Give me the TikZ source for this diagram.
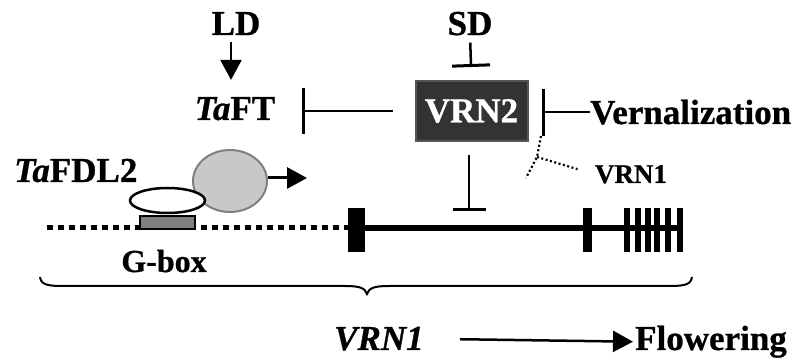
\documentclass[tikz,border=0pt]{standalone}
\usepackage{fontspec}
\setmainfont{Liberation Serif}[BoldFeatures={FakeBold=0.8},BoldItalicFeatures={FakeBold=0.8}]
\usetikzlibrary{arrows.meta,shapes.geometric}
\definecolor{boxfill}{HTML}{333333}
\definecolor{boxline}{HTML}{555555}
\definecolor{protfill}{HTML}{C8C8C8}
\definecolor{protline}{HTML}{808080}
\definecolor{gfill}{HTML}{7F7F7F}
\begin{document}
\begin{tikzpicture}[x=1pt,y=-1pt,
  lbl/.style={font=\fontsize{35}{40}\selectfont\bfseries, inner sep=0pt},
  lblsmall/.style={font=\fontsize{27}{30}\selectfont\bfseries, inner sep=0pt},
  lblg/.style={font=\fontsize{32}{36}\selectfont\bfseries, inner sep=0pt},
  inh/.style={line width=2.5pt, -{Bar[width=#1, line width=3pt]}},
  inh/.default=40pt,
  act/.style={line width=2.5pt, -{Triangle[length=20pt, width=21pt]}},
  dotline/.style={line width=2.2pt, dash pattern=on 2pt off 2.5pt},
  vbox/.style={draw=boxline, fill=boxfill, line width=2pt, minimum width=112pt, minimum height=60pt,
    text=white, font=\fontsize{35}{40}\selectfont\bfseries, inner sep=0pt},
  prot/.style={ellipse, draw=protline, fill=protfill, line width=2pt, minimum width=74pt, minimum height=62pt, inner sep=0pt},
  fdl/.style={ellipse, draw=black, fill=white, line width=2.5pt, minimum width=75pt, minimum height=25pt, inner sep=0pt},
  gboxr/.style={rectangle, draw=black, fill=gfill, line width=2pt, minimum width=55pt, minimum height=13pt, inner sep=0pt},
  exon/.style={fill=black}
]
\useasboundingbox (0,0) rectangle (804,363);

% labels
\node[lbl, anchor=base] (LD) at (236,35) {LD};
\node[lbl, anchor=base] (SD) at (470,35) {SD};
\node[lbl, anchor=base] (TaFT) at (235,120) {\textit{Ta}FT};
\node[vbox] (VRN2) at (471.5,111) {VRN2};
\node[lbl, anchor=base west] (Vern) at (590,124) {Vernalization};
\node[lblsmall, anchor=base] (VRN1s) at (631,183) {VRN1};
\node[lbl, anchor=base west] (FDL) at (14,182) {\textit{Ta}FDL2};
\node[lblg, anchor=base] (Gtxt) at (164,272) {G-box};
\node[lbl, anchor=base west] (VRN1) at (334,350) {\textit{VRN1}};
\node[lbl, anchor=base west] (Flow) at (635,350) {Flowering};

% coordinates
\coordinate (ftbar) at (302,112);
\coordinate (genebar) at (469,211);
\coordinate (vb) at (541,136);
\coordinate (vj) at (537,157);
\coordinate (vd) at (526,178);
\coordinate (pa) at (307,178);

% gene model
\draw[line width=5pt, dash pattern=on 6pt off 5pt] (47,228) -- (348,228);
\draw[line width=6pt] (352,228) -- (683,228);
\fill[exon] (348,208) rectangle (365,252);
\fill[exon] (583,208) rectangle (592,252);
\foreach \xx in {624,635,645,654,665,677}{
  \fill[exon] (\xx,208) rectangle (\xx+6,252);
}

% protein complex
\node[gboxr] (gbox) at (167.5,223) {};
\node[prot] (tfft) at (230,181) {};
\node[fdl] (tfdl) at (167.5,200.5) {};
\draw[act, line width=3pt] ([yshift=3pt]tfft.east) -- (pa);

% regulation
\draw[act, shorten <=7pt, shorten >=17pt] ([xshift=-5pt]LD.south) -- ([xshift=-4pt]TaFT.north);
\draw[inh=38pt, shorten <=7pt, shorten >=13pt] (SD.south) -- (VRN2.north);
\draw[inh=46pt, shorten <=22pt] (VRN2.west) -- (VRN2.west -| ftbar);
\draw[inh=47pt, shorten >=13pt] (Vern.west) -- (Vern.west -| VRN2.east);
\draw[inh=33pt, shorten <=13pt] (VRN2.south -| genebar) -- (genebar);
\draw[dotline] (vb) -- (vj) -- (vd);
\draw[dotline, shorten >=18pt] (vj) -- (VRN1s.west);

% brace
\draw[line width=2pt] (40,277) .. controls (41,284) and (46,286) .. (62,286) -- (345,286)
  .. controls (360,286) and (365,288) .. (367,294)
  .. controls (369,288) and (374,286) .. (389,286) -- (670,286)
  .. controls (686,286) and (691,284) .. (692,277);

% output arrow
\draw[act, line width=2.5pt, shorten <=36pt, shorten >=2pt] (VRN1.east) -- (Flow.west);
\end{tikzpicture}
\end{document}
